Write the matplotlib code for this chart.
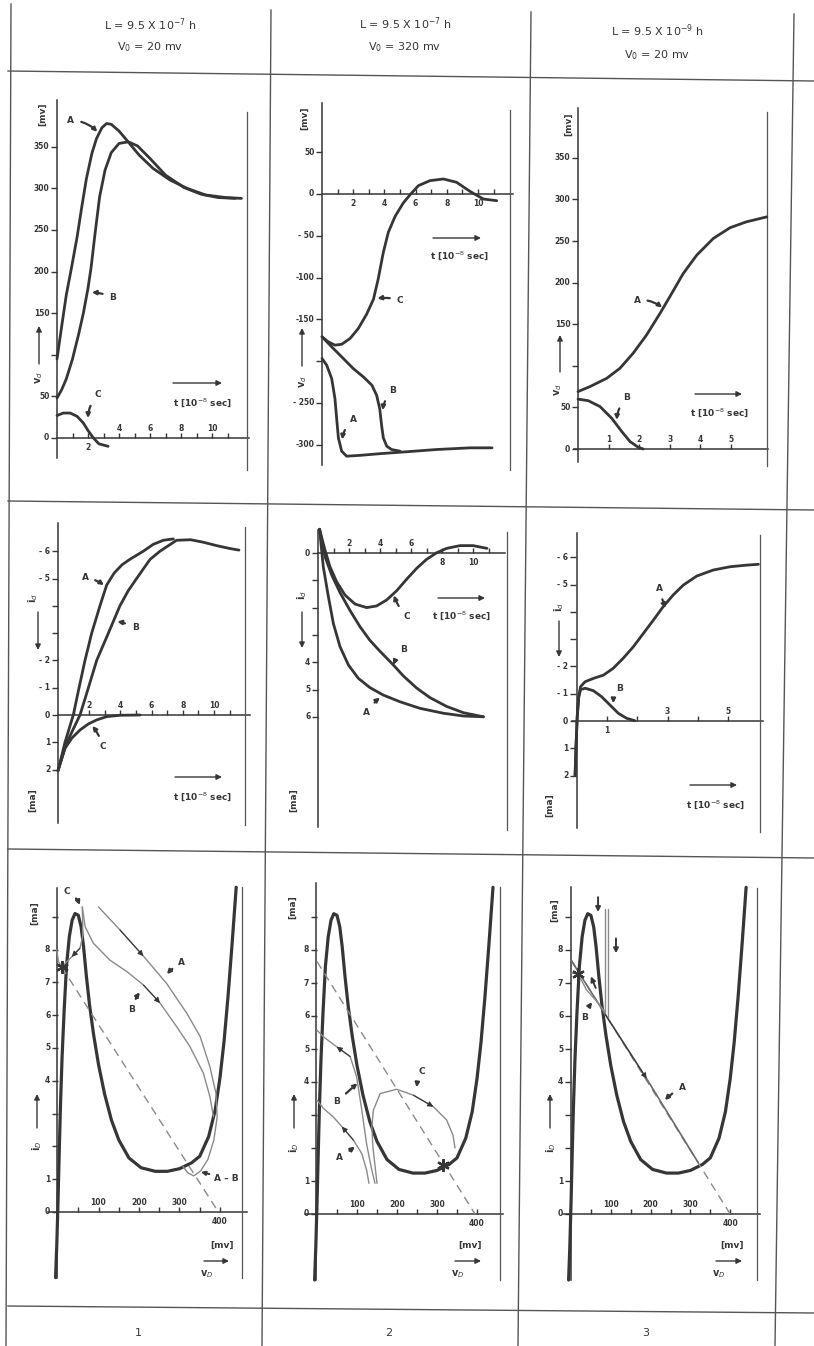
import matplotlib.pyplot as plt

W, H = 814, 1346
INK = "#363636"
THIN = "#8a8a8a"
RULE = "#555555"

# ---- column headings and footer ----
head_L = ["L = 9.5 X 10$^{-7}$ h", "L = 9.5 X 10$^{-7}$ h", "L = 9.5 X 10$^{-9}$ h"]
head_V = ["V$_0$ = 20 mv", "V$_0$ = 320 mv", "V$_0$ = 20 mv"]
foot_num = ["1", "2", "3"]

# ---- row 1: v_d [mv] against t [1e-8 sec] ----
p11_A_t = [0, 0.3, 0.6, 0.95, 1.3, 1.6, 1.9, 2.25, 2.55, 2.9, 3.2, 3.5, 4.0, 4.5, 5.3, 6.2, 7.3, 8.4, 9.6, 10.9, 11.9]
p11_A_v = [95, 134, 172, 206, 242, 278, 312, 342, 360, 373, 378, 377, 369, 358, 340, 324, 310, 300, 292, 289, 288]
p11_B_t = [0, 0.3, 0.6, 1.0, 1.4, 1.7, 2.0, 2.2, 2.45, 2.75, 3.1, 3.5, 4.0, 4.6, 5.2, 6.0, 7.0, 8.2, 9.3, 10.4, 11.5]
p11_B_v = [48, 58, 71, 95, 125, 150, 180, 205, 245, 290, 322, 343, 354, 356, 351, 336, 316, 301, 293, 289, 288]
p11_C_t = [0, 0.4, 0.85, 1.3, 1.7, 2.0, 2.35, 2.7, 3.3]
p11_C_v = [27, 30, 30, 26, 18, 9, 0, -7, -10]

p12_A_t = [0, 0.3, 0.62, 0.83, 0.94, 1.05, 1.26, 1.58, 2.44, 3.7, 5.2, 7.35, 9.5, 10.9]
p12_A_v = [-197, -205, -221, -245, -269, -292, -308, -314, -313, -311, -309, -306, -304, -304]
p12_B_t = [0, 0.62, 1.26, 2.0, 2.65, 3.2, 3.5, 3.7, 3.82, 3.93, 4.15, 4.46, 5.0]
p12_B_v = [-171, -183, -195, -209, -219, -229, -241, -257, -277, -292, -302, -306, -308]
p12_C_t = [0, 0.4, 0.83, 1.26, 1.8, 2.33, 2.86, 3.3, 3.6, 3.93, 4.25, 4.68, 5.2, 5.64, 6.18, 6.92, 7.78, 8.63, 9.5, 10.34, 11.2]
p12_C_v = [-171, -177, -181, -180, -173, -161, -144, -126, -102, -70, -46, -27, -11, -1, 10, 16, 18, 14, 3, -6, -8]

p13_A_t = [0, 0.39, 0.94, 1.37, 1.8, 2.24, 2.68, 3.0, 3.44, 3.88, 4.42, 4.97, 5.5, 6.17]
p13_A_v = [69, 75, 85, 97, 115, 137, 163, 183, 211, 233, 253, 266, 273, 279]
p13_B_t = [0, 0.34, 0.72, 1.1, 1.43, 1.7, 1.97, 2.13]
p13_B_v = [60, 58, 51, 37, 21, 9, 2, 0]

# ---- row 2: i_d [ma] against t [1e-8 sec] ----
p21_A_t = [0, 0.45, 0.98, 1.35, 1.73, 2.16, 2.69, 3.12, 3.6, 4.1, 4.6, 5.47, 6.1, 6.75, 7.4]
p21_A_i = [2.04, 1.0, 0.0, -1.0, -2.0, -3.0, -4.0, -4.76, -5.2, -5.5, -5.7, -6.0, -6.25, -6.4, -6.45]
p21_B_t = [0, 0.5, 0.95, 1.41, 1.95, 2.48, 3.23, 3.97, 4.5, 5.04, 5.9, 6.54, 7.6, 8.5, 9.3, 10.2, 11.0, 11.6]
p21_B_i = [2.04, 1.1, 0.55, 0.0, -1.0, -2.0, -3.0, -4.0, -4.55, -5.0, -5.7, -6.0, -6.4, -6.42, -6.33, -6.2, -6.1, -6.04]
p21_C_t = [0, 0.45, 0.88, 1.41, 1.94, 2.48, 3.12, 3.97, 5.26]
p21_C_i = [2.04, 1.22, 0.85, 0.55, 0.33, 0.18, 0.06, 0.01, 0.0]

p22_A_t = [0.1, 0.34, 0.67, 0.99, 1.42, 1.96, 2.6, 3.35, 4.2, 5.29, 6.58, 8.09, 9.38, 10.67]
p22_A_i = [-0.87, 0.5, 1.6, 2.58, 3.43, 4.1, 4.59, 4.93, 5.2, 5.45, 5.69, 5.87, 5.97, 6.0]
p22_B_t = [0.1, 0.45, 0.88, 1.42, 2.06, 2.71, 3.35, 4.0, 4.86, 5.5, 6.37, 7.23, 8.3, 9.38, 10.67]
p22_B_i = [-0.87, 0.13, 0.8, 1.45, 2.1, 2.7, 3.2, 3.6, 4.1, 4.5, 4.95, 5.3, 5.62, 5.85, 6.0]
p22_C_t = [0.1, 0.45, 0.77, 1.2, 1.74, 2.39, 3.14, 3.78, 4.43, 5.08, 5.72, 6.37, 7.01, 7.66, 8.3, 9.16, 10.0, 10.9]
p22_C_i = [-0.87, -0.11, 0.5, 1.05, 1.54, 1.87, 2.0, 1.94, 1.72, 1.38, 0.96, 0.56, 0.23, -0.01, -0.17, -0.27, -0.27, -0.17]

p23_A_t = [-0.03, 0.0, 0.04, 0.09, 0.15, 0.3, 0.57, 0.9, 1.22, 1.55, 1.88, 2.21, 2.54, 2.86, 3.19, 3.52, 3.96, 4.5, 5.05, 5.6, 5.98]
p23_A_i = [2.0, 0.94, -0.16, -0.89, -1.26, -1.44, -1.56, -1.68, -1.93, -2.3, -2.72, -3.21, -3.7, -4.19, -4.62, -4.98, -5.31, -5.53, -5.65, -5.71, -5.74]
p23_B_t = [-0.03, 0.0, 0.04, 0.09, 0.15, 0.3, 0.57, 0.84, 1.11, 1.39, 1.66, 1.93]
p23_B_i = [2.0, 0.94, -0.16, -0.89, -1.15, -1.2, -1.11, -0.89, -0.59, -0.28, -0.1, -0.01]

# ---- row 3: i_D [ma] against v_D [mv] ----
char_v = [-6, -3, 0, 3, 6, 10, 15, 21, 28, 35, 42, 50, 57, 63, 70, 78, 88, 100, 115, 132, 150, 175,
          205, 240, 270, 300, 330, 350, 372, 388, 400, 410, 420, 430, 440]
char_i = [-2.0, -1.0, 0.3, 1.8, 3.2, 4.7, 6.1, 7.5, 8.4, 8.9, 9.1, 9.05, 8.7, 8.1, 7.2, 6.3, 5.4, 4.5, 3.6, 2.8, 2.2, 1.65,
          1.35, 1.24, 1.24, 1.32, 1.5, 1.7, 2.3, 3.1, 4.1, 5.2, 6.6, 8.2, 9.9]

p31_A_v = [100, 153, 211, 268, 318, 351, 375, 390, 393, 385, 370, 352, 335, 320, 308]
p31_A_i = [9.3, 8.6, 7.8, 6.97, 6.06, 5.35, 4.43, 3.62, 2.9, 2.2, 1.6, 1.25, 1.1, 1.2, 1.4]
p31_B_v = [60, 67, 87, 128, 170, 211, 252, 293, 326, 359, 375, 384]
p31_B_i = [9.3, 8.7, 8.2, 7.68, 7.33, 6.92, 6.37, 5.65, 5.04, 4.23, 3.52, 2.9]
p31_C_v = [-3, 1, 9, 34, 54, 61, 61, 60]
p31_C_i = [8.0, 7.64, 7.47, 7.78, 8.04, 8.4, 8.8, 9.3]
p31_load_v = [9, 396]
p31_load_i = [7.47, 0]
p31_star = [9, 7.47]

p32_A_v = [0, 16, 40, 62, 91, 112, 124, 130]
p32_A_i = [3.45, 3.2, 2.95, 2.65, 2.24, 1.83, 1.33, 0.93]
p32_B_v = [0, 16, 49, 83, 99, 112, 124, 137, 145]
p32_B_i = [5.57, 5.37, 5.07, 4.77, 4.16, 3.15, 2.12, 1.33, 0.93]
p32_C_v = [150, 140, 137, 141, 158, 199, 241, 291, 324, 340, 345]
p32_C_i = [0.93, 2.0, 2.65, 3.15, 3.65, 3.78, 3.6, 3.25, 2.85, 2.39, 2.0]
p32_load_v = [0, 395]
p32_load_i = [7.65, 0]
p32_star = [316, 1.48]

p33_load_v = [0, 400]
p33_load_i = [7.7, 0]
p33_A_v = [0, 19, 86, 190, 320]
p33_A_i = [7.7, 7.33, 6.05, 4.1, 1.55]
p33_B_v = [0, 18, 39, 65, 85]
p33_B_i = [7.3, 7.28, 6.79, 6.44, 6.13]
p33_J1_v = [85, 85]
p33_J1_i = [9.25, 6.05]
p33_J2_v = [94, 94]
p33_J2_i = [9.25, 5.95]
p33_star = [18, 7.28]

# ---- tick values / labels ----
r1_vt = [0, 50, 100, 150, 200, 250, 300, 350]
r1_vl = ["0", "50", "", "150", "200", "250", "300", "350"]
p12_vt = [50, 0, -50, -100, -150, -200, -250, -300]
p12_vl = ["50", "0", "- 50", "-100", "-150", "", "- 250", "-300"]
r2_it = [-6, -5, -4, -3, -2, -1, 0, 1, 2]
r2_il = ["- 6", "- 5", "", "", "- 2", "- 1", "0", "1", "2"]
p22_it = [0, 1, 2, 3, 4, 5, 6]
p22_il = ["0", "", "", "", "4", "5", "6"]
r3_it = [0, 1, 2, 3, 4, 5, 6, 7, 8, 9]
r3_il = ["0", "1", "", "", "4", "5", "6", "7", "8", ""]
t11 = list(range(1, 12))
t5 = [1, 2, 3, 4, 5]
mv_t = [50, 100, 150, 200, 250, 300, 350, 400]

fig = plt.figure(figsize=(W / 100, H / 100), dpi=100)
fig.patch.set_facecolor("white")
bg = fig.add_axes([0, 0, 1, 1])
bg.set_xlim(0, W)
bg.set_ylim(H, 0)
bg.axis("off")

# table rules (the scan leans a little)
rules = [((11, 4), (6, 1346)), ((271, 10), (262, 1346)), ((531, 12), (518, 1346)),
         ((794, 14), (775, 1346)), ((8, 71), (814, 81)), ((8, 501), (814, 510)),
         ((8, 849), (814, 858)), ((8, 1306), (814, 1313))]
for (xa, ya), (xb, yb) in rules:
    bg.plot([xa, xb], [ya, yb], color=RULE, lw=1.0)

head_x = [150, 405, 657]
head_y = [(25, 47), (24, 47), (31, 55)]
for k in range(3):
    bg.text(head_x[k], head_y[k][0], head_L[k], ha="center", va="center", fontsize=8, color=INK)
    bg.text(head_x[k], head_y[k][1], head_V[k], ha="center", va="center", fontsize=8, color=INK)
foot_x = [138, 389, 646]
for k in range(3):
    bg.text(foot_x[k], 1333, foot_num[k], ha="center", va="center", fontsize=8, color=INK)


def panel(box, x0, y0, sx, sy):
    L, T, R, B = box
    ax = fig.add_axes([L / W, 1 - B / H, (R - L) / W, (B - T) / H])
    ax.set_xlim((L - x0) / sx, (R - x0) / sx)
    ax.set_ylim((y0 - B) / sy, (y0 - T) / sy)
    ax.axis("off")
    return ax


def axis_lines(x0, ytop, ybot, y0, xl, xr, xf, ftop, fbot):
    bg.plot([x0, x0], [ytop, ybot], color=INK, lw=1.1)
    bg.plot([xl, xr], [y0, y0], color=INK, lw=1.1)
    bg.plot([xf, xf], [ftop, fbot], color=RULE, lw=0.9)


def ticks(ax, yt, yl, xt, xlv, xls, xup):
    ax.plot([0] * len(yt), yt, ls="none", marker=0, ms=4, mew=1.0, color=INK)
    for v, s in zip(yt, yl):
        if s:
            ax.annotate(s, (0, v), xytext=(-5.5, 0), textcoords="offset points", ha="right",
                        va="center", fontsize=5.5, fontweight="bold", color=INK)
    ax.plot(xt, [0] * len(xt), ls="none", marker=2, ms=3.5, mew=1.0, color=INK)
    for v, s, up in zip(xlv, xls, xup):
        ax.annotate(s, (v, 0), xytext=(0, 3.5 if up else -3.5), textcoords="offset points",
                    ha="center", va="bottom" if up else "top", fontsize=5.5,
                    fontweight="bold", color=INK)


def tag(ax, s, txt, head, rad=0.25, ls="-"):
    ax.annotate(s, xy=head, xytext=txt, ha="center", va="center", fontsize=6.5,
                fontweight="bold", color=INK,
                arrowprops=dict(arrowstyle="-|>", color=INK, lw=1.6, mutation_scale=6,
                                shrinkA=3, shrinkB=0, linestyle=ls,
                                connectionstyle="arc3,rad=%s" % rad))


def flow(ax, xs, ys, k, back=False, col=INK):
    j = k + 1 if back else k - 1
    ax.annotate("", xy=(xs[k], ys[k]), xytext=(xs[j], ys[j]),
                arrowprops=dict(arrowstyle="-|>", color=col, lw=0.8, mutation_scale=8,
                                shrinkA=0, shrinkB=0))


def arrow(x1, y1, x2, y2):
    bg.annotate("", xy=(x2, y2), xytext=(x1, y1),
                arrowprops=dict(arrowstyle="-|>", color=INK, lw=1.0, mutation_scale=8,
                                shrinkA=0, shrinkB=0))


def vlabel(x, y, s, size=6.5):
    bg.text(x, y, s, rotation=90, ha="center", va="center", fontsize=size,
            fontweight="bold", color=INK)


def hlabel(x, y, s, size=6.5):
    bg.text(x, y, s, ha="center", va="center", fontsize=size, fontweight="bold", color=INK)


def curve(ax, x, y, lw=2.0, col=INK, ls="-"):
    ax.plot(x, y, color=col, lw=lw, ls=ls, solid_capstyle="round", solid_joinstyle="round")


# ================= row 1 =================
ax = panel((14, 78, 266, 498), 57, 438, 15.5, 0.832)
axis_lines(57, 100, 458, 438, 57, 249, 247, 112, 470)
ticks(ax, r1_vt, r1_vl, t11, [2, 4, 6, 8, 10], ["2", "4", "6", "8", "10"],
      [False, True, True, True, True])
curve(ax, p11_A_t, p11_A_v)
curve(ax, p11_B_t, p11_B_v)
curve(ax, p11_C_t, p11_C_v)
tag(ax, "A", (0.9, 382), (2.6, 368), rad=-0.2)
tag(ax, "B", (3.6, 169), (2.25, 175), rad=0.1)
tag(ax, "C", (2.65, 52), (2.0, 24), rad=0.2)
vlabel(43, 114, "[mv]")
arrow(39, 364, 39, 326)
vlabel(39, 378, "v$_d$", 7)
arrow(173, 383, 222, 383)
hlabel(203, 403, "t [10$^{-8}$ sec]")

ax = panel((274, 80, 524, 500), 322, 194, 15.6, 0.835)
axis_lines(322, 103, 465, 194, 322, 513, 510, 110, 470)
ticks(ax, p12_vt, p12_vl, t11, [2, 4, 6, 8, 10], ["2", "4", "6", "8", "10"], [False] * 5)
curve(ax, p12_A_t, p12_A_v)
curve(ax, p12_B_t, p12_B_v)
curve(ax, p12_C_t, p12_C_v)
tag(ax, "C", (5.0, -127), (3.55, -125), rad=0.1)
tag(ax, "B", (4.55, -235), (3.9, -259), rad=0.2)
tag(ax, "A", (2.0, -270), (1.3, -294), rad=0.2)
vlabel(305, 118, "[mv]")
arrow(302, 366, 302, 328)
vlabel(303, 382, "v$_d$", 7)
arrow(433, 238, 481, 238)
hlabel(460, 256, "t [10$^{-8}$ sec]")

ax = panel((534, 82, 785, 502), 578, 449, 30.6, 0.832)
axis_lines(578, 108, 462, 449, 574, 768, 767, 112, 466)
ticks(ax, r1_vt, r1_vl, t5, t5, ["1", "2", "3", "4", "5"], [True] * 5)
curve(ax, p13_A_t, p13_A_v)
curve(ax, p13_B_t, p13_B_v)
tag(ax, "A", (1.93, 179), (2.75, 170), rad=-0.2)
tag(ax, "B", (1.6, 62), (1.27, 35), rad=0.2)
vlabel(569, 124, "[mv]")
arrow(560, 372, 560, 335)
vlabel(558, 390, "v$_d$", 7)
arrow(695, 394, 742, 394)
hlabel(720, 413, "t [10$^{-8}$ sec]")

# ================= row 2 =================
ax = panel((14, 506, 265, 846), 58, 715, 15.6, -27.3)
axis_lines(58, 523, 823, 715, 58, 250, 245, 527, 825)
ticks(ax, r2_it, r2_il, t11, [2, 4, 6, 8, 10], ["2", "4", "6", "8", "10"], [True] * 5)
curve(ax, p21_A_t, p21_A_i)
curve(ax, p21_B_t, p21_B_i)
curve(ax, p21_C_t, p21_C_i)
tag(ax, "A", (1.73, -5.05), (2.95, -4.76), rad=-0.1)
tag(ax, "B", (4.94, -3.19), (3.8, -3.42), rad=0.1)
tag(ax, "C", (2.9, 1.17), (2.2, 0.4), rad=0.1)
vlabel(33, 598, "i$_d$", 7)
arrow(38, 612, 38, 650)
vlabel(33, 800, "[ma]")
arrow(175, 777, 222, 777)
hlabel(203, 797, "t [10$^{-8}$ sec]")

ax = panel((274, 510, 524, 850), 318, 553, 15.5, -27.3)
axis_lines(318, 530, 827, 553, 318, 505, 507, 532, 830)
ticks(ax, p22_it, p22_il, t11, [2, 4, 6, 8, 10], ["2", "4", "6", "8", "10"],
      [True, True, True, False, False])
curve(ax, p22_A_t, p22_A_i)
curve(ax, p22_B_t, p22_B_i)
curve(ax, p22_C_t, p22_C_i)
tag(ax, "C", (5.7, 2.34), (4.9, 1.55), rad=-0.1)
tag(ax, "B", (5.5, 3.55), (4.86, 4.1), rad=0.1)
tag(ax, "A", (3.15, 5.86), (4.0, 5.3), rad=-0.1)
vlabel(302, 595, "i$_d$", 7)
arrow(302, 612, 302, 648)
vlabel(294, 800, "[ma]")
arrow(438, 598, 485, 598)
hlabel(462, 616, "t [10$^{-8}$ sec]")

ax = panel((532, 512, 782, 852), 576, 721, 30.5, -27.3)
axis_lines(577, 533, 828, 721, 572, 763, 760, 535, 832)
ticks(ax, r2_it, r2_il, t5, [1, 3, 5], ["1", "3", "5"], [False, True, True])
curve(ax, p23_A_t, p23_A_i)
curve(ax, p23_B_t, p23_B_i)
tag(ax, "A", (2.75, -4.87), (2.95, -4.15), rad=0.1)
tag(ax, "B", (1.44, -1.2), (1.22, -0.65), rad=0.2)
vlabel(559, 607, "i$_d$", 7)
arrow(559, 621, 559, 657)
vlabel(550, 805, "[ma]")
arrow(690, 785, 737, 785)
hlabel(716, 805, "t [10$^{-8}$ sec]")

# ================= row 3 =================
ax = panel((14, 856, 265, 1300), 58, 1212, 0.405, 32.8)
axis_lines(57, 888, 1278, 1212, 48, 247, 242, 887, 1278)
ticks(ax, r3_it, r3_il, mv_t, [100, 200, 300, 400], ["100", "200", "300", "400"],
      [True, True, True, False])
curve(ax, char_v, char_i, lw=2.3)
curve(ax, p31_load_v, p31_load_i, lw=1.0, col=THIN, ls=(0, (6, 4)))
curve(ax, p31_A_v, p31_A_i, lw=1.0, col=THIN)
curve(ax, p31_B_v, p31_B_i, lw=1.0, col=THIN)
curve(ax, p31_C_v, p31_C_i, lw=1.0, col=THIN)
ax.plot(*p31_star, marker=(6, 2, 0), ms=9, mew=1.6, color=INK)
flow(ax, p31_A_v, p31_A_i, 2)
flow(ax, p31_B_v, p31_B_i, 6)
flow(ax, p31_C_v, p31_C_i, 3, back=True)
tag(ax, "C", (22, 9.76), (54, 9.36), rad=-0.2)
tag(ax, "A", (306, 7.6), (269, 7.25), rad=0.1)
tag(ax, "B", (182, 6.16), (202, 6.7), rad=-0.1)
ax.annotate("A – B", xy=(353, 1.22), xytext=(384, 1.03), ha="left", va="center", fontsize=6.5,
            fontweight="bold", color=INK,
            arrowprops=dict(arrowstyle="-|>", color=INK, lw=1.4, mutation_scale=6,
                            shrinkA=1, shrinkB=0))
vlabel(35, 913, "[ma]")
arrow(37, 1128, 37, 1094)
vlabel(37, 1146, "i$_D$", 7)
hlabel(222, 1245, "[mv]")
arrow(204, 1261, 229, 1261)
hlabel(207, 1274, "v$_D$", 7)

ax = panel((272, 860, 522, 1302), 317, 1214, 0.400, 33.0)
axis_lines(316, 883, 1280, 1214, 305, 503, 500, 887, 1280)
ticks(ax, r3_it, r3_il, mv_t, [100, 200, 300, 400], ["100", "200", "300", "400"],
      [True, True, True, False])
curve(ax, char_v, char_i, lw=2.3)
curve(ax, p32_load_v, p32_load_i, lw=1.0, col=THIN, ls=(0, (6, 4)))
curve(ax, p32_A_v, p32_A_i, lw=1.0, col=THIN)
curve(ax, p32_B_v, p32_B_i, lw=1.0, col=THIN)
curve(ax, p32_C_v, p32_C_i, lw=1.0, col=THIN)
ax.plot(*p32_star, marker=(6, 2, 0), ms=9, mew=1.6, color=INK)
flow(ax, p32_A_v, p32_A_i, 3, back=True)
flow(ax, p32_B_v, p32_B_i, 2, back=True)
flow(ax, p32_C_v, p32_C_i, 7)
tag(ax, "C", (262, 4.31), (249, 3.84), rad=0.1)
tag(ax, "B", (49, 3.4), (101, 3.96), rad=0.0, ls="--")
tag(ax, "A", (57, 1.7), (95, 2.04), rad=0.0)
vlabel(293, 907, "[ma]")
arrow(294, 1128, 294, 1094)
vlabel(294, 1148, "i$_D$", 7)
hlabel(470, 1245, "[mv]")
arrow(455, 1261, 481, 1261)
hlabel(458, 1274, "v$_D$", 7)

ax = panel((530, 862, 780, 1304), 571, 1214, 0.398, 33.0)
axis_lines(571, 887, 1280, 1214, 563, 760, 757, 888, 1280)
ticks(ax, r3_it, r3_il, mv_t, [100, 200, 300, 400], ["100", "200", "300", "400"],
      [True, True, True, False])
curve(ax, char_v, char_i, lw=2.3)
curve(ax, p33_load_v, p33_load_i, lw=1.0, col=THIN, ls=(0, (6, 4)))
curve(ax, p33_A_v, p33_A_i, lw=1.2, col="#6a6a6a")
curve(ax, p33_B_v, p33_B_i, lw=1.0, col=THIN)
curve(ax, p33_J1_v, p33_J1_i, lw=1.0, col=THIN)
curve(ax, p33_J2_v, p33_J2_i, lw=1.0, col=THIN)
ax.plot(*p33_star, marker=(6, 2, 0), ms=9, mew=1.6, color=INK)
flow(ax, p33_A_v, p33_A_i, 3)
tag(ax, "A", (279, 3.82), (236, 3.45), rad=0.1)
tag(ax, "B", (35, 5.94), (53, 6.42), rad=-0.1)
for (xa, ya), (xb, yb) in [((68, 9.6), (68, 9.15)), ((113, 8.35), (113, 7.9)),
                           ((62, 6.85), (50, 7.2))]:
    ax.annotate("", xy=(xb, yb), xytext=(xa, ya),
                arrowprops=dict(arrowstyle="-|>", color=INK, lw=1.4, mutation_scale=7,
                                shrinkA=0, shrinkB=0))
vlabel(555, 910, "[ma]")
arrow(550, 1128, 550, 1094)
vlabel(551, 1148, "i$_D$", 7)
hlabel(732, 1245, "[mv]")
arrow(716, 1261, 742, 1261)
hlabel(719, 1274, "v$_D$", 7)

fig.savefig("out.png", dpi=100, facecolor="white")
